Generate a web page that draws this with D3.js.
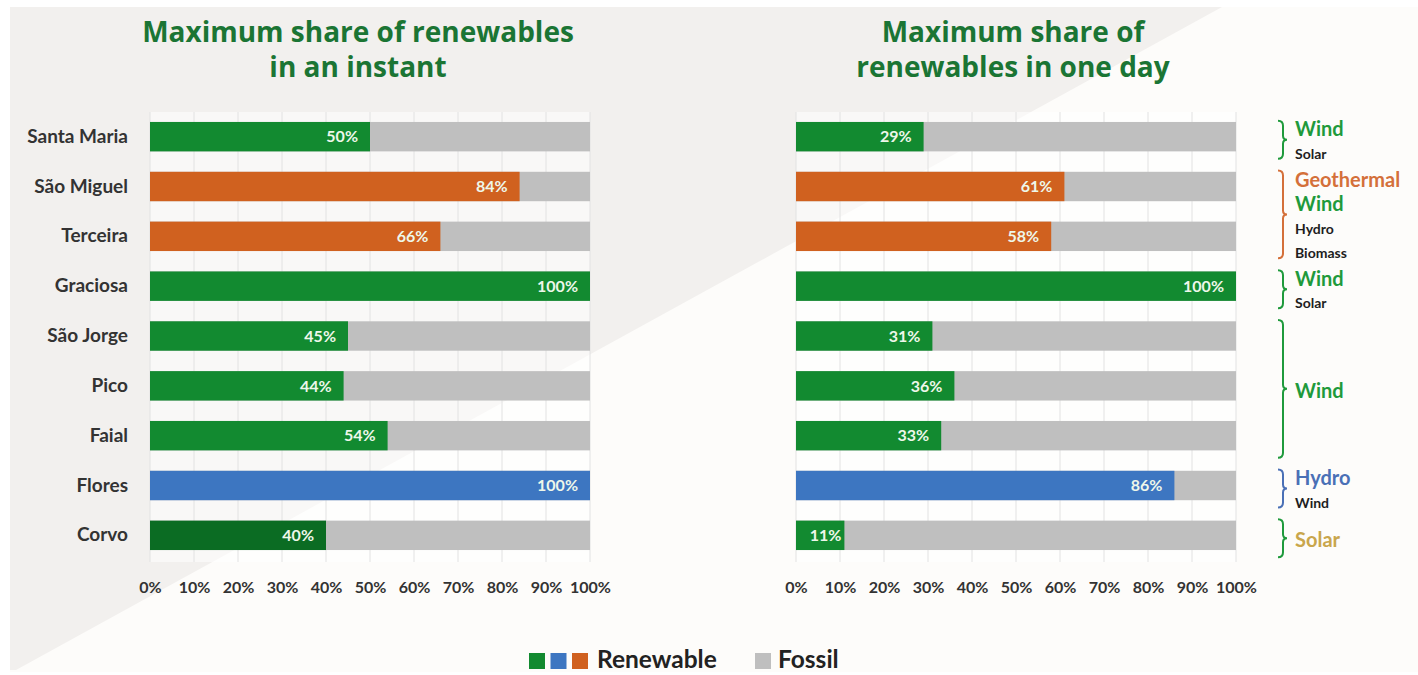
<!DOCTYPE html>
<html>
<head>
<meta charset="utf-8">
<script src="https://cdn.jsdelivr.net/npm/d3@7"></script>
<style>
  html, body { margin: 0; padding: 0; background: #ffffff; }
  svg { display: block; }
</style>
</head>
<body>
<svg id="chart" width="1418" height="675"></svg>
<script>
// ---------------- data ----------------
const islands = ["Santa Maria", "São Miguel", "Terceira", "Graciosa", "São Jorge", "Pico", "Faial", "Flores", "Corvo"];
const instantShare = [50, 84, 66, 100, 45, 44, 54, 100, 40];
const dayShare = [29, 61, 58, 100, 31, 36, 33, 86, 11];
const instantSource = ["wind", "geothermal", "geothermal", "wind", "wind", "wind", "wind", "hydro", "solar"];
const daySource = ["wind", "geothermal", "geothermal", "wind", "wind", "wind", "wind", "hydro", "wind"];
const tickValues = [0, 10, 20, 30, 40, 50, 60, 70, 80, 90, 100];
const titleInstant = ["Maximum share of renewables", "in an instant"];
const titleDay = ["Maximum share of", "renewables in one day"];
// annotation groups: first row, last row, lines [text, kind]
const annoRows = [[0, 0], [1, 2], [3, 3], [4, 6], [7, 7], [8, 8]];
const annoKind = ["wind", "geothermal", "wind", "wind", "hydro", "wind"];
const annoLines = [
  [["Wind", "wind"], ["Solar", "minor"]],
  [["Geothermal", "geothermal"], ["Wind", "wind"], ["Hydro", "minor"], ["Biomass", "minor"]],
  [["Wind", "wind"], ["Solar", "minor"]],
  [["Wind", "wind"]],
  [["Hydro", "hydro"], ["Wind", "minor"]],
  [["Solar", "solar"]]
];
const legendItems = ["Renewable", "Fossil"];

// ---------------- styles ----------------
const barColor = d3.scaleOrdinal()
  .domain(["wind", "geothermal", "hydro", "solar"])
  .range(["#128a30", "#d0611f", "#3d76c1", "#0b6c23"]);
const annoColor = d3.scaleOrdinal()
  .domain(["wind", "geothermal", "hydro", "solar", "minor"])
  .range(["#1f9a3c", "#d4703a", "#4a70b6", "#c9a64c", "#1e1e1e"]);
const fossilColor = "#bfbfbf";
const titleColor = "#1b7534";
const textColor = "#333333";

const svg = d3.select("#chart");

// background
svg.append("rect").attr("x", 0).attr("y", 0).attr("width", 1418).attr("height", 675).attr("fill", "#ffffff");
svg.append("rect").attr("x", 10).attr("y", 7).attr("width", 1408).attr("height", 665).attr("fill", "#fdfcfa");
svg.append("polygon")
  .attr("points", [[10, 7], [1222, 7], [16, 670], [10, 670]].map(p => p.join(",")).join(" "))
  .attr("fill", "#f2f0ee");

const y = d3.scaleBand().domain(islands).range([112, 560]).paddingInner(0.41).paddingOuter(0.2);

function drawPanel(x0, values, sources, titleLines, titleX, showLabels) {
  const x = d3.scaleLinear().domain([0, 100]).range([x0, x0 + 440]);
  const g = svg.append("g");

  // plot area
  g.append("rect").attr("x", x(0)).attr("y", 112).attr("width", x(100) - x(0)).attr("height", 450)
    .attr("fill", "#ffffff").attr("opacity", 0.5);

  // gridlines
  g.selectAll(".grid").data(tickValues).enter().append("line")
    .attr("x1", d => x(d)).attr("x2", d => x(d))
    .attr("y1", 112).attr("y2", 562)
    .attr("stroke", "#e2e2e2").attr("stroke-width", 1);

  // fossil (background full bars)
  g.selectAll(".fossil").data(islands).enter().append("rect")
    .attr("x", x(0)).attr("y", d => y(d))
    .attr("width", x(100) - x(0)).attr("height", y.bandwidth())
    .attr("fill", fossilColor);

  // renewable bars
  g.selectAll(".ren").data(islands).enter().append("rect")
    .attr("x", x(0)).attr("y", d => y(d))
    .attr("width", (d, i) => x(values[i]) - x(0)).attr("height", y.bandwidth())
    .attr("fill", (d, i) => barColor(sources[i]));

  // value labels
  g.selectAll(".val").data(islands).enter().append("text")
    .attr("x", (d, i) => x(values[i]) - (values[i] < 15 ? 3 : 12))
    .attr("y", d => y(d) + y.bandwidth() / 2)
    .attr("dy", "0.36em")
    .attr("text-anchor", "end")
    .attr("font-family", "Lato, 'Open Sans', sans-serif")
    .attr("font-weight", 700)
    .attr("font-size", 16)
    .attr("fill", "#eef7ea")
    .text((d, i) => values[i] + "%");

  // x axis
  const axis = d3.axisBottom(x).tickValues(tickValues).tickFormat(d => d + "%").tickSize(0).tickPadding(0);
  const ax = g.append("g").attr("transform", "translate(0,582)").call(axis);
  ax.select(".domain").remove();
  ax.selectAll("text")
    .attr("font-family", "Lato, 'Open Sans', sans-serif")
    .attr("font-weight", 700)
    .attr("font-size", 16)
    .attr("fill", textColor);

  // category labels
  if (showLabels) {
    const ay = d3.axisLeft(y).tickSize(0).tickPadding(22);
    const ayg = g.append("g").attr("transform", `translate(${x(0)},0)`).call(ay);
    ayg.select(".domain").remove();
    ayg.selectAll("text")
      .attr("font-family", "Lato, 'Open Sans', sans-serif")
      .attr("font-weight", 700)
      .attr("font-size", 19)
      .attr("fill", textColor);
  }

  // title
  g.selectAll(".title").data(titleLines).enter().append("text")
    .attr("x", titleX).attr("y", (d, i) => 42 + i * 35)
    .attr("text-anchor", "middle")
    .attr("font-family", "'Open Sans', sans-serif")
    .attr("font-weight", 700)
    .attr("font-size", 28)
    .attr("fill", titleColor)
    .text(d => d);

  return x;
}

drawPanel(150, instantShare, instantSource, titleInstant, 358, true);
drawPanel(796, dayShare, daySource, titleDay, 1013, false);

// annotations (braces)
const braceX = 1283;
const step = y.step();
annoRows.forEach((r, gi) => {
  const c = (y(islands[r[0]]) + y(islands[r[1]]) + y.bandwidth()) / 2 + 3;
  const half = (r[1] - r[0]) * step / 2 + 19;
  const top = c - half, bot = c + half;
  const col = annoColor(annoKind[gi]);
  const path = d3.path();
  path.moveTo(braceX - 5, top);
  path.quadraticCurveTo(braceX, top, braceX, top + 5);
  path.lineTo(braceX, c - 4);
  path.quadraticCurveTo(braceX, c, braceX + 4, c);
  path.quadraticCurveTo(braceX, c, braceX, c + 4);
  path.lineTo(braceX, bot - 5);
  path.quadraticCurveTo(braceX, bot, braceX - 5, bot);
  svg.append("path").attr("d", path.toString())
    .attr("fill", "none").attr("stroke", col).attr("stroke-width", 2);

  const lines = annoLines[gi];
  const n = lines.length;
  lines.forEach((ln, i) => {
    const minor = ln[1] === "minor";
    svg.append("text")
      .attr("x", braceX + 12)
      .attr("y", c + 2 + (i - (n - 1) / 2) * 24.5 + (minor ? 5 : 7))
      .attr("font-family", "Lato, 'Open Sans', sans-serif")
      .attr("font-weight", 700)
      .attr("font-size", minor ? 14 : 20)
      .attr("fill", annoColor(ln[1]))
      .text(ln[0]);
  });
});

// legend
const legG = svg.append("g");
const renewSwatches = ["wind", "hydro", "geothermal"];
legG.selectAll(".sw").data(renewSwatches).enter().append("rect")
  .attr("x", (d, i) => 529 + i * 21.5).attr("y", 653)
  .attr("width", 16).attr("height", 16)
  .attr("fill", d => barColor(d));
legG.append("text").attr("x", 597).attr("y", 668)
  .attr("font-family", "Lato, 'Open Sans', sans-serif").attr("font-weight", 700)
  .attr("font-size", 24.5).attr("fill", "#222").text(legendItems[0]);
legG.append("rect").attr("x", 755).attr("y", 653).attr("width", 16).attr("height", 16).attr("fill", fossilColor);
legG.append("text").attr("x", 778).attr("y", 668)
  .attr("font-family", "Lato, 'Open Sans', sans-serif").attr("font-weight", 700)
  .attr("font-size", 24.5).attr("fill", "#222").text(legendItems[1]);
</script>
</body>
</html>
